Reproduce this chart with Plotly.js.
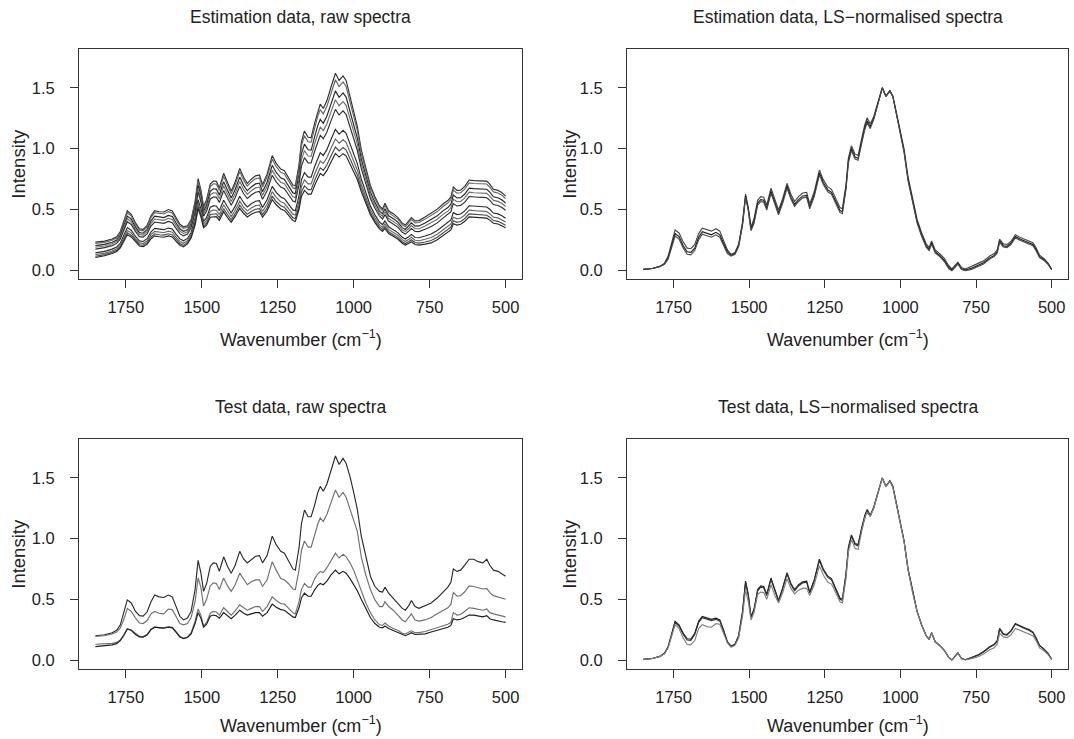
<!DOCTYPE html>
<html>
<head>
<meta charset="utf-8">
<script src="https://cdn.plot.ly/plotly-3.0.1.min.js"></script>
<style>html,body{margin:0;padding:0;background:#fff;}#chart{width:1074px;height:739px;}</style>
</head>
<body>
<div id="chart"></div>
<script>
const wavenumber = [1850,1820,1795,1780,1768,1757,1745,1732,1718,1705,
1693,1680,1667,1655,1640,1625,1610,1597,1585,1572,
1560,1547,1535,1522,1512,1503,1494,1484,1472,1462,
1452,1442,1428,1415,1403,1390,1375,1362,1350,1337,
1323,1310,1300,1285,1268,1255,1240,1228,1215,1200,
1192,1180,1172,1162,1150,1140,1128,1118,1110,1100,
1088,1075,1060,1048,1035,1025,1012,1000,988,975,
960,945,930,915,905,897,885,870,855,840,
830,818,810,798,785,765,745,725,705,690,
680,672,660,648,635,620,605,590,575,562,
552,540,525,512,500];

// Estimation data, raw spectra
const estRaw1 = [0.229,0.238,0.255,0.274,0.317,0.394,0.487,0.459,0.388,0.339,
0.334,0.367,0.447,0.489,0.48,0.478,0.498,0.487,0.432,0.377,
0.356,0.364,0.415,0.563,0.752,0.661,0.523,0.579,0.707,0.733,
0.73,0.677,0.796,0.714,0.648,0.725,0.837,0.762,0.714,0.748,
0.775,0.782,0.703,0.789,0.942,0.878,0.831,0.818,0.763,0.699,
0.693,0.866,1.056,1.145,1.093,1.09,1.213,1.312,1.366,1.33,
1.395,1.503,1.62,1.561,1.599,1.561,1.435,1.301,1.183,0.99,
0.83,0.696,0.604,0.528,0.503,0.549,0.487,0.464,0.433,0.386,
0.37,0.405,0.432,0.404,0.407,0.437,0.469,0.501,0.546,0.572,
0.602,0.683,0.656,0.658,0.687,0.741,0.736,0.736,0.735,0.732,
0.707,0.665,0.656,0.637,0.609];
const estRaw2 = [0.219,0.228,0.245,0.264,0.306,0.381,0.471,0.444,0.375,0.328,
0.323,0.355,0.432,0.472,0.464,0.461,0.481,0.470,0.416,0.363,
0.343,0.352,0.403,0.548,0.732,0.643,0.509,0.562,0.685,0.710,
0.707,0.655,0.771,0.691,0.628,0.702,0.811,0.738,0.692,0.725,
0.751,0.758,0.682,0.765,0.913,0.851,0.805,0.792,0.738,0.676,
0.670,0.837,1.020,1.106,1.056,1.053,1.172,1.268,1.320,1.286,
1.349,1.454,1.567,1.511,1.548,1.511,1.390,1.261,1.148,0.962,
0.807,0.677,0.587,0.513,0.488,0.533,0.472,0.449,0.419,0.373,
0.357,0.390,0.416,0.388,0.391,0.419,0.449,0.481,0.525,0.551,
0.580,0.659,0.633,0.636,0.664,0.717,0.712,0.712,0.711,0.708,
0.683,0.643,0.634,0.615,0.588];
const estRaw3 = [0.201,0.211,0.229,0.247,0.287,0.358,0.444,0.418,0.353,0.308,
0.303,0.333,0.405,0.443,0.435,0.432,0.450,0.440,0.389,0.339,
0.319,0.331,0.382,0.521,0.698,0.612,0.485,0.533,0.647,0.669,
0.666,0.618,0.726,0.652,0.592,0.663,0.765,0.697,0.653,0.684,
0.709,0.716,0.644,0.723,0.862,0.803,0.759,0.746,0.695,0.635,
0.629,0.785,0.957,1.037,0.990,0.988,1.100,1.191,1.240,1.208,
1.269,1.367,1.475,1.422,1.458,1.424,1.311,1.191,1.087,0.914,
0.767,0.643,0.557,0.486,0.462,0.504,0.446,0.424,0.394,0.349,
0.334,0.364,0.388,0.361,0.363,0.388,0.415,0.446,0.489,0.514,
0.542,0.617,0.593,0.596,0.624,0.674,0.670,0.669,0.668,0.665,
0.642,0.603,0.595,0.577,0.552];
const estRaw4 = [0.187,0.198,0.216,0.234,0.272,0.340,0.422,0.397,0.335,0.292,
0.287,0.316,0.384,0.420,0.412,0.409,0.426,0.416,0.368,0.320,
0.301,0.315,0.365,0.499,0.670,0.588,0.465,0.510,0.617,0.636,
0.634,0.588,0.692,0.621,0.564,0.631,0.728,0.664,0.623,0.653,
0.676,0.683,0.615,0.689,0.823,0.765,0.723,0.710,0.660,0.603,
0.596,0.745,0.907,0.983,0.939,0.937,1.044,1.130,1.178,1.148,
1.205,1.300,1.402,1.353,1.387,1.356,1.249,1.136,1.038,0.876,
0.736,0.616,0.533,0.465,0.442,0.481,0.425,0.403,0.374,0.331,
0.316,0.344,0.366,0.340,0.340,0.363,0.388,0.418,0.460,0.485,
0.512,0.583,0.562,0.565,0.592,0.641,0.636,0.635,0.634,0.631,
0.609,0.573,0.565,0.547,0.523];
const estRaw5 = [0.172,0.184,0.201,0.219,0.256,0.320,0.398,0.375,0.316,0.275,
0.271,0.297,0.362,0.395,0.387,0.384,0.400,0.390,0.345,0.299,
0.281,0.297,0.347,0.476,0.641,0.562,0.444,0.485,0.585,0.601,
0.600,0.556,0.654,0.587,0.534,0.597,0.689,0.628,0.589,0.618,
0.640,0.647,0.582,0.653,0.779,0.725,0.683,0.670,0.623,0.568,
0.561,0.700,0.853,0.925,0.882,0.881,0.982,1.064,1.109,1.081,
1.136,1.226,1.323,1.277,1.311,1.282,1.182,1.076,0.986,0.835,
0.702,0.588,0.508,0.443,0.420,0.456,0.403,0.381,0.353,0.311,
0.296,0.322,0.342,0.317,0.316,0.336,0.358,0.388,0.429,0.453,
0.480,0.547,0.527,0.532,0.557,0.605,0.600,0.599,0.598,0.595,
0.574,0.539,0.531,0.515,0.492];
const estRaw6 = [0.141,0.153,0.172,0.189,0.222,0.279,0.349,0.328,0.276,0.240,
0.235,0.258,0.314,0.343,0.336,0.332,0.346,0.337,0.296,0.256,
0.240,0.260,0.309,0.428,0.579,0.506,0.401,0.433,0.517,0.528,
0.527,0.489,0.575,0.517,0.470,0.526,0.607,0.554,0.520,0.546,
0.566,0.571,0.515,0.578,0.689,0.639,0.601,0.588,0.545,0.495,
0.488,0.608,0.741,0.802,0.765,0.765,0.854,0.926,0.966,0.943,
0.993,1.072,1.158,1.119,1.150,1.126,1.041,0.950,0.876,0.749,
0.631,0.527,0.454,0.395,0.374,0.405,0.356,0.335,0.308,0.270,
0.255,0.276,0.293,0.268,0.266,0.280,0.297,0.325,0.363,0.387,
0.412,0.472,0.456,0.461,0.485,0.529,0.525,0.523,0.522,0.519,
0.500,0.469,0.462,0.447,0.426];
const estRaw7 = [0.126,0.139,0.157,0.174,0.205,0.260,0.325,0.306,0.257,0.223,
0.218,0.239,0.291,0.318,0.311,0.307,0.320,0.311,0.273,0.235,
0.220,0.242,0.290,0.405,0.549,0.480,0.380,0.408,0.484,0.493,
0.492,0.456,0.537,0.483,0.440,0.492,0.567,0.518,0.487,0.511,
0.530,0.535,0.483,0.541,0.645,0.598,0.562,0.549,0.508,0.460,
0.453,0.564,0.687,0.743,0.709,0.709,0.792,0.859,0.898,0.877,
0.924,1.000,1.079,1.044,1.073,1.052,0.973,0.890,0.824,0.707,
0.596,0.498,0.429,0.372,0.351,0.380,0.334,0.313,0.287,0.250,
0.235,0.253,0.269,0.245,0.241,0.253,0.267,0.295,0.332,0.355,
0.379,0.435,0.421,0.428,0.451,0.493,0.488,0.486,0.485,0.482,
0.464,0.435,0.429,0.414,0.395];
const estRaw8 = [0.113,0.127,0.146,0.162,0.192,0.243,0.306,0.287,0.241,0.208,
0.204,0.223,0.272,0.298,0.290,0.287,0.298,0.289,0.254,0.218,
0.203,0.227,0.275,0.385,0.525,0.458,0.362,0.387,0.457,0.463,
0.463,0.430,0.505,0.455,0.414,0.464,0.534,0.489,0.459,0.482,
0.500,0.505,0.456,0.511,0.609,0.564,0.529,0.516,0.477,0.431,
0.423,0.527,0.642,0.694,0.662,0.662,0.741,0.804,0.841,0.821,
0.866,0.936,1.013,0.981,1.009,0.990,0.917,0.840,0.780,0.673,
0.568,0.474,0.407,0.353,0.333,0.359,0.315,0.295,0.269,0.233,
0.218,0.235,0.249,0.226,0.221,0.231,0.243,0.270,0.306,0.328,
0.352,0.405,0.393,0.399,0.422,0.462,0.458,0.455,0.454,0.451,
0.435,0.407,0.401,0.387,0.369];
const estRaw9 = [0.103,0.117,0.136,0.152,0.181,0.230,0.290,0.272,0.228,0.197,
0.193,0.211,0.257,0.281,0.274,0.270,0.281,0.272,0.238,0.204,
0.190,0.215,0.263,0.370,0.505,0.440,0.348,0.370,0.435,0.440,
0.440,0.408,0.480,0.432,0.394,0.441,0.508,0.465,0.437,0.459,
0.476,0.481,0.435,0.487,0.580,0.537,0.503,0.490,0.452,0.408,
0.400,0.498,0.606,0.655,0.625,0.625,0.700,0.760,0.795,0.777,
0.820,0.887,0.960,0.930,0.958,0.940,0.872,0.800,0.745,0.645,
0.545,0.455,0.390,0.338,0.318,0.343,0.300,0.280,0.255,0.220,
0.205,0.220,0.233,0.210,0.205,0.213,0.223,0.250,0.285,0.307,
0.330,0.381,0.370,0.377,0.399,0.438,0.434,0.431,0.430,0.427,
0.411,0.385,0.379,0.365,0.348];

// Estimation data, LS-normalised spectra
const estNorm1 = [0.005,0.012,0.03,0.056,0.115,0.214,0.33,0.305,0.23,0.18,
0.175,0.21,0.30,0.345,0.33,0.32,0.34,0.32,0.244,0.165,
0.129,0.144,0.212,0.395,0.625,0.515,0.353,0.424,0.574,0.604,
0.599,0.534,0.674,0.574,0.494,0.584,0.714,0.624,0.564,0.604,
0.634,0.639,0.544,0.644,0.824,0.744,0.684,0.664,0.594,0.514,
0.504,0.704,0.924,1.024,0.954,0.944,1.084,1.194,1.254,1.204,
1.265,1.379,1.503,1.433,1.478,1.433,1.289,1.138,0.998,0.768,
0.578,0.418,0.308,0.218,0.185,0.24,0.165,0.135,0.095,0.035,
0.009,0.039,0.064,0.019,0.009,0.03,0.05,0.075,0.115,0.135,
0.165,0.255,0.215,0.21,0.235,0.29,0.27,0.255,0.24,0.225,
0.185,0.122,0.094,0.056,0.005];
const estNorm2 = [0.005,0.012,0.03,0.05,0.10,0.19,0.30,0.275,0.20,0.15,
0.145,0.18,0.27,0.315,0.30,0.29,0.31,0.29,0.22,0.15,
0.12,0.135,0.20,0.38,0.61,0.50,0.335,0.40,0.55,0.58,
0.575,0.51,0.65,0.55,0.47,0.56,0.69,0.60,0.54,0.58,
0.61,0.615,0.52,0.62,0.80,0.72,0.66,0.64,0.57,0.49,
0.48,0.68,0.90,1.00,0.93,0.92,1.06,1.17,1.23,1.18,
1.25,1.37,1.50,1.43,1.475,1.43,1.28,1.12,0.98,0.75,
0.56,0.40,0.29,0.20,0.17,0.225,0.15,0.12,0.08,0.02,
0.00,0.03,0.055,0.01,0.00,0.015,0.035,0.06,0.10,0.12,
0.15,0.24,0.20,0.195,0.22,0.275,0.255,0.24,0.225,0.21,
0.17,0.11,0.085,0.05,0.005];
const estNorm3 = [0.005,0.012,0.03,0.046,0.09,0.174,0.28,0.255,0.18,0.13,
0.125,0.16,0.25,0.295,0.28,0.27,0.29,0.27,0.204,0.135,
0.114,0.129,0.192,0.37,0.60,0.49,0.323,0.384,0.534,0.564,
0.559,0.494,0.634,0.534,0.454,0.544,0.674,0.584,0.524,0.564,
0.594,0.599,0.504,0.604,0.784,0.704,0.644,0.624,0.554,0.474,
0.464,0.664,0.884,0.984,0.914,0.904,1.044,1.154,1.214,1.164,
1.24,1.364,1.498,1.428,1.473,1.428,1.274,1.108,0.968,0.738,
0.548,0.388,0.278,0.188,0.16,0.215,0.14,0.11,0.07,0.01,
-0.006,0.024,0.049,0.004,-0.006,0.005,0.025,0.05,0.09,0.11,
0.14,0.23,0.19,0.185,0.21,0.265,0.245,0.23,0.215,0.20,
0.16,0.102,0.079,0.046,0.005];

// Test data, raw spectra
const testRaw1 = [0.200,0.208,0.225,0.245,0.29,0.38,0.495,0.47,0.40,0.365,
0.362,0.395,0.48,0.535,0.52,0.515,0.535,0.52,0.45,0.36,
0.33,0.345,0.40,0.58,0.82,0.72,0.565,0.63,0.77,0.80,
0.795,0.73,0.85,0.77,0.715,0.78,0.895,0.83,0.80,0.83,
0.855,0.86,0.80,0.86,1.02,0.95,0.895,0.88,0.82,0.75,
0.74,0.92,1.12,1.235,1.18,1.18,1.28,1.38,1.43,1.39,
1.45,1.56,1.68,1.61,1.66,1.62,1.51,1.38,1.24,1.02,
0.85,0.69,0.605,0.565,0.56,0.60,0.55,0.51,0.47,0.425,
0.41,0.45,0.49,0.44,0.425,0.445,0.47,0.51,0.56,0.60,
0.64,0.75,0.73,0.74,0.78,0.83,0.83,0.81,0.80,0.83,
0.78,0.74,0.73,0.71,0.69];
const testRaw2 = [0.195,0.20,0.215,0.23,0.265,0.33,0.425,0.40,0.345,0.305,
0.30,0.325,0.38,0.40,0.385,0.38,0.42,0.415,0.36,0.30,
0.29,0.30,0.35,0.48,0.675,0.60,0.445,0.50,0.61,0.635,
0.63,0.58,0.675,0.61,0.565,0.62,0.715,0.66,0.62,0.645,
0.66,0.66,0.605,0.66,0.81,0.74,0.67,0.66,0.63,0.585,
0.58,0.74,0.90,0.98,0.93,0.93,1.04,1.12,1.17,1.14,
1.20,1.30,1.40,1.34,1.38,1.34,1.24,1.15,1.06,0.85,
0.70,0.58,0.495,0.44,0.44,0.48,0.44,0.41,0.37,0.33,
0.315,0.35,0.38,0.33,0.32,0.33,0.35,0.38,0.41,0.43,
0.46,0.557,0.525,0.53,0.56,0.61,0.605,0.595,0.585,0.59,
0.555,0.53,0.52,0.51,0.50];
const testRaw3 = [0.13,0.132,0.137,0.145,0.165,0.205,0.255,0.245,0.215,0.195,
0.193,0.21,0.255,0.27,0.265,0.265,0.275,0.27,0.235,0.195,
0.18,0.19,0.225,0.32,0.42,0.37,0.28,0.31,0.385,0.40,
0.395,0.37,0.43,0.395,0.37,0.405,0.455,0.43,0.41,0.425,
0.44,0.44,0.40,0.44,0.52,0.49,0.465,0.46,0.43,0.39,
0.38,0.48,0.58,0.63,0.60,0.60,0.67,0.71,0.73,0.72,
0.76,0.82,0.88,0.84,0.87,0.85,0.80,0.74,0.66,0.58,
0.47,0.39,0.33,0.29,0.285,0.305,0.28,0.26,0.245,0.22,
0.215,0.23,0.24,0.225,0.225,0.235,0.25,0.265,0.28,0.295,
0.31,0.39,0.37,0.375,0.40,0.43,0.425,0.415,0.41,0.42,
0.39,0.38,0.37,0.365,0.355];
const testRaw4 = [0.11,0.115,0.125,0.135,0.16,0.20,0.255,0.245,0.21,0.19,
0.188,0.205,0.25,0.27,0.265,0.262,0.27,0.265,0.23,0.19,
0.175,0.185,0.215,0.30,0.39,0.345,0.27,0.295,0.36,0.37,
0.365,0.345,0.39,0.36,0.34,0.37,0.41,0.385,0.37,0.38,
0.39,0.39,0.36,0.39,0.46,0.435,0.415,0.41,0.385,0.355,
0.35,0.43,0.51,0.55,0.525,0.525,0.58,0.615,0.63,0.62,
0.65,0.70,0.74,0.71,0.73,0.715,0.67,0.62,0.57,0.50,
0.42,0.35,0.30,0.27,0.265,0.28,0.26,0.245,0.23,0.21,
0.20,0.215,0.225,0.21,0.21,0.215,0.23,0.245,0.26,0.27,
0.285,0.34,0.33,0.335,0.35,0.37,0.37,0.36,0.355,0.365,
0.34,0.33,0.32,0.315,0.31];

// Test data, LS-normalised spectra
const testNorm1 = [0.005,0.012,0.03,0.055,0.11,0.21,0.318,0.29,0.22,0.175,
0.172,0.22,0.32,0.358,0.345,0.335,0.345,0.33,0.25,0.15,
0.115,0.13,0.20,0.40,0.65,0.54,0.355,0.42,0.58,0.61,
0.605,0.54,0.675,0.575,0.49,0.59,0.72,0.63,0.58,0.62,
0.645,0.65,0.56,0.66,0.83,0.75,0.69,0.67,0.59,0.51,
0.50,0.71,0.93,1.03,0.96,0.95,1.09,1.19,1.24,1.19,
1.26,1.38,1.50,1.43,1.475,1.43,1.28,1.12,0.98,0.75,
0.56,0.40,0.29,0.20,0.17,0.225,0.15,0.12,0.08,0.02,
0.00,0.03,0.058,0.012,0.002,0.02,0.04,0.07,0.11,0.13,
0.16,0.26,0.215,0.21,0.24,0.30,0.28,0.265,0.25,0.23,
0.185,0.12,0.09,0.055,0.005];
const testNorm2 = [0.005,0.012,0.03,0.055,0.105,0.20,0.308,0.28,0.21,0.165,
0.162,0.21,0.31,0.348,0.335,0.325,0.335,0.32,0.24,0.145,
0.112,0.127,0.195,0.39,0.64,0.53,0.35,0.41,0.57,0.60,
0.595,0.53,0.665,0.565,0.485,0.58,0.71,0.62,0.57,0.61,
0.635,0.64,0.55,0.65,0.82,0.74,0.68,0.66,0.58,0.50,
0.49,0.70,0.92,1.02,0.95,0.94,1.08,1.18,1.235,1.185,
1.255,1.375,1.50,1.43,1.475,1.43,1.28,1.12,0.98,0.75,
0.56,0.40,0.29,0.20,0.17,0.225,0.15,0.12,0.08,0.02,
0.00,0.03,0.058,0.012,0.002,0.018,0.038,0.066,0.105,0.125,
0.155,0.255,0.21,0.205,0.235,0.295,0.275,0.26,0.245,0.225,
0.18,0.118,0.088,0.053,0.005];
const testNorm3 = [0.005,0.012,0.03,0.05,0.10,0.19,0.29,0.26,0.18,0.13,
0.125,0.16,0.26,0.29,0.275,0.27,0.30,0.295,0.22,0.14,
0.105,0.12,0.18,0.36,0.58,0.48,0.33,0.39,0.54,0.56,
0.555,0.50,0.62,0.53,0.47,0.55,0.67,0.59,0.545,0.575,
0.59,0.59,0.53,0.62,0.775,0.70,0.64,0.625,0.56,0.48,
0.47,0.67,0.89,0.99,0.92,0.91,1.06,1.17,1.22,1.18,
1.25,1.37,1.50,1.43,1.47,1.42,1.27,1.11,0.97,0.745,
0.555,0.40,0.29,0.20,0.17,0.225,0.15,0.12,0.08,0.02,
0.00,0.03,0.055,0.01,0.00,0.01,0.025,0.05,0.085,0.10,
0.13,0.22,0.19,0.185,0.205,0.26,0.245,0.23,0.215,0.20,
0.16,0.10,0.075,0.045,0.005];

const xTicks = [1750, 1500, 1250, 1000, 750, 500];
const yTicks = [0, 0.5, 1.0, 1.5];
const yTickText = ['0.0', '0.5', '1.0', '1.5'];
const panelTitles = ['Estimation data, raw spectra', 'Estimation data, LS\u2212normalised spectra',
                     'Test data, raw spectra', 'Test data, LS\u2212normalised spectra'];
const xTitle = 'Wavenumber (cm<sup>\u22121</sup>)';
const yTitle = 'Intensity';

const panels = [
  {ax: '', series: [estRaw1, estRaw2, estRaw3, estRaw4, estRaw5, estRaw6, estRaw7, estRaw8, estRaw9],
   colors: ['#2e2e2e','#666','#262626','#6e6e6e','#2e2e2e','#2a2a2a','#666','#4a4a4a','#262626']},
  {ax: '2', series: [estNorm1, estNorm2, estNorm3],
   colors: ['#4a4a4a','#1a1a1a','#4a4a4a']},
  {ax: '3', series: [testRaw1, testRaw2, testRaw3, testRaw4],
   colors: ['#2a2a2a','#707070','#707070','#1e1e1e']},
  {ax: '4', series: [testNorm1, testNorm2, testNorm3],
   colors: ['#1e1e1e','#333','#808080']}
];

const traces = [];
panels.forEach(p => {
  p.series.forEach((s, i) => {
    traces.push({
      x: wavenumber, y: s, type: 'scatter', mode: 'lines',
      xaxis: 'x' + p.ax, yaxis: 'y' + p.ax,
      line: {color: p.colors[i], width: 1.15}, hoverinfo: 'skip'
    });
  });
});

const FONT = 'Liberation Sans, Arial, Helvetica, sans-serif';
const W = 1074, H = 739;
const boxes = [
  {x0: 79, x1: 522, y0: 49, y1: 278.5, yt: 60, xt: 60},
  {x0: 627, x1: 1068, y0: 49, y1: 278.5, yt: 57, xt: 60},
  {x0: 79, x1: 522, y0: 439, y1: 668.5, yt: 60, xt: 56},
  {x0: 627, x1: 1068, y0: 439, y1: 668.5, yt: 57, xt: 56}
];

const layout = {
  width: W, height: H,
  margin: {l: 0, r: 0, t: 0, b: 0},
  paper_bgcolor: '#fff', plot_bgcolor: '#fff',
  showlegend: false,
  font: {family: FONT, color: '#222', size: 16},
  annotations: []
};

boxes.forEach((b, i) => {
  const suf = i === 0 ? '' : String(i + 1);
  layout['xaxis' + suf] = {
    domain: [b.x0 / W, b.x1 / W], anchor: 'y' + suf,
    range: [1904, 446], tickvals: xTicks, ticktext: xTicks.map(String),
    ticks: 'outside', ticklen: 8, tickwidth: 1, tickcolor: '#333',
    showline: true, linecolor: '#333', linewidth: 1, mirror: true,
    showgrid: false, zeroline: false,
    tickfont: {family: FONT, size: 16.5, color: '#222'}, ticklabelstandoff: 6
  };
  layout['yaxis' + suf] = {
    domain: [1 - b.y1 / H, 1 - b.y0 / H], anchor: 'x' + suf,
    range: [-0.07, 1.82], tickvals: yTicks, ticktext: yTickText,
    ticks: 'outside', ticklen: 8, tickwidth: 1, tickcolor: '#333',
    showline: true, linecolor: '#333', linewidth: 1, mirror: true,
    showgrid: false, zeroline: false,
    tickfont: {family: FONT, size: 16.5, color: '#222'}, ticklabelstandoff: 12
  };
  const cx = (b.x0 + b.x1) / 2;
  layout.annotations.push({
    text: panelTitles[i], xref: 'paper', yref: 'paper',
    x: cx / W, y: 1 - (b.y0 - 32) / H, xanchor: 'center', yanchor: 'middle',
    showarrow: false, font: {family: FONT, size: 17.5, color: '#222'}
  });
  layout.annotations.push({
    text: xTitle, xref: 'paper', yref: 'paper',
    x: cx / W, y: 1 - (b.y1 + b.xt) / H, xanchor: 'center', yanchor: 'middle',
    showarrow: false, font: {family: FONT, size: 18, color: '#222'}
  });
  layout.annotations.push({
    text: yTitle, xref: 'paper', yref: 'paper', textangle: -90,
    x: (b.x0 - b.yt) / W, y: 1 - ((b.y0 + b.y1) / 2) / H, xanchor: 'center', yanchor: 'middle',
    showarrow: false, font: {family: FONT, size: 18.5, color: '#222'}
  });
});

Plotly.newPlot('chart', traces, layout, {staticPlot: true, displayModeBar: false});
</script>
</body>
</html>
